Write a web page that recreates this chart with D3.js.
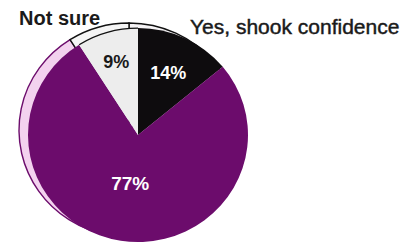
<!DOCTYPE html>
<html>
<head>
<meta charset="utf-8">
<script src="https://cdn.jsdelivr.net/npm/d3@7"></script>
<style>
  body { margin: 0; background: #fff; }
  svg { display: block; }
  text { font-family: "Liberation Sans", Arial, Helvetica, sans-serif; }
</style>
</head>
<body>
<svg id="chart" width="419" height="244"></svg>
<script>
// pie data, clockwise from 12 o'clock
const categories = ["Yes, shook confidence", "No", "Not sure"];
const values = [14, 77, 9];
const pctLabels = ["14%", "77%", "9%"];

const faceColors = ["#0e0c0e", "#6c0c6c", "#ededed"];
const sideColors = ["#f5f3f5", "#f3d2ef", "#f5f5f5"];
const sideStrokes = ["#111", "#6c0c6c", "#111"];
const labelColors = ["#fff", "#fff", "#1a1a1a"];
const labelRadius = [71, 50, 78];

const svg = d3.select("#chart");
const cx = 138, cy = 135, r = 110, squash = 0.973;

const pie = d3.pie().sort(null).value(function(d) { return d; });
const arcs = pie(values);
const arc = d3.arc().innerRadius(0).outerRadius(r);

// side of the disc, peeking out up and to the left
const side = svg.append("g")
    .attr("transform", "translate(" + (cx - 9) + "," + (cy - 5) + ") scale(1," + squash + ")");
side.selectAll("path")
  .data(arcs)
  .enter().append("path")
    .attr("d", arc)
    .attr("fill", function(d, i) { return sideColors[i]; })
    .attr("stroke", function(d, i) { return sideStrokes[i]; })
    .attr("stroke-width", 1.4)
    .attr("vector-effect", "non-scaling-stroke");

const face = svg.append("g")
    .attr("transform", "translate(" + cx + "," + cy + ") scale(1," + squash + ")");
face.selectAll("path")
  .data(arcs)
  .enter().append("path")
    .attr("d", arc)
    .attr("fill", function(d, i) { return faceColors[i]; });

// dark rim on the light slice
const rimArc = d3.arc().innerRadius(r - 0.8).outerRadius(r + 0.6);
face.append("path")
    .attr("d", rimArc(arcs[2]))
    .attr("fill", "#111");

// percentages
svg.selectAll(".pct")
  .data(arcs)
  .enter().append("text")
    .attr("class", "pct")
    .attr("transform", function(d, i) {
      const p = d3.arc().innerRadius(labelRadius[i]).outerRadius(labelRadius[i]).centroid(d);
      return "translate(" + (cx + p[0]) + "," + (cy + p[1] * squash) + ")";
    })
    .attr("text-anchor", "middle")
    .attr("dy", "0.35em")
    .attr("font-size", function(d, i) { return i === 1 ? 19 : 18; })
    .attr("font-weight", "bold")
    .attr("fill", function(d, i) { return labelColors[i]; })
    .text(function(d, i) { return pctLabels[i]; });

// category captions
svg.append("text")
    .attr("x", 19).attr("y", 25)
    .attr("font-size", 20)
    .attr("font-weight", "bold")
    .attr("fill", "#1a1a1a")
    .text(categories[2]);

svg.append("text")
    .attr("x", 190).attr("y", 34)
    .attr("font-size", 21)
    .attr("fill", "#1a1a1a")
    .attr("stroke", "#1a1a1a")
    .attr("stroke-width", 0.45)
    .text(categories[0]);
</script>
</body>
</html>
